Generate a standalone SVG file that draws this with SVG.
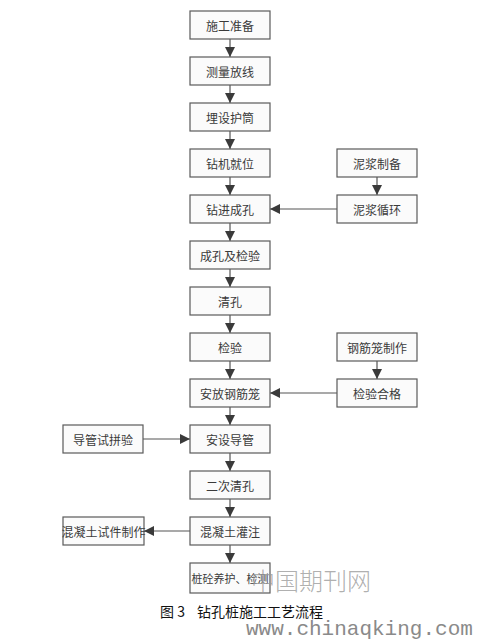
<svg xmlns="http://www.w3.org/2000/svg" width="477" height="641" viewBox="0 0 477 641">
<defs>
<marker id="ah" viewBox="0 0 10 10" refX="10" refY="5" markerWidth="10" markerHeight="10" markerUnits="userSpaceOnUse" orient="auto">
<path d="M0,0 L10,5 L0,10 z" fill="#3a3a3a"/>
</marker>
<style>
.box{fill:#fbfbfb;stroke:#5a5a5a;stroke-width:1.2}
.t{font-family:"Noto Sans CJK SC",sans-serif;font-size:12px;fill:#3a3a3a;text-anchor:middle;dominant-baseline:central}
.c{stroke:#555;stroke-width:1.2;fill:none;marker-end:url(#ah)}
</style>
</defs>
<rect width="477" height="641" fill="#ffffff"/>
<g id="connectors">
<line class="c" x1="230" y1="39" x2="230" y2="57"/>
<line class="c" x1="230" y1="85" x2="230" y2="103"/>
<line class="c" x1="230" y1="131" x2="230" y2="149"/>
<line class="c" x1="230" y1="177" x2="230" y2="195"/>
<line class="c" x1="230" y1="223" x2="230" y2="241"/>
<line class="c" x1="230" y1="269" x2="230" y2="287"/>
<line class="c" x1="230" y1="315" x2="230" y2="333"/>
<line class="c" x1="230" y1="361" x2="230" y2="379"/>
<line class="c" x1="230" y1="407" x2="230" y2="425"/>
<line class="c" x1="230" y1="453" x2="230" y2="471"/>
<line class="c" x1="230" y1="499" x2="230" y2="517"/>
<line class="c" x1="230" y1="545" x2="230" y2="563"/>
<line class="c" x1="377" y1="177" x2="377" y2="195"/>
<line class="c" x1="377" y1="361" x2="377" y2="379"/>
<line class="c" x1="337" y1="209" x2="270" y2="209"/>
<line class="c" x1="337" y1="393" x2="270" y2="393"/>
<line class="c" x1="143" y1="439" x2="190" y2="439"/>
<line class="c" x1="190" y1="531" x2="144" y2="531"/>
</g>
<g id="n1"><rect class="box" x="190" y="11" width="80" height="28"/><text class="t" x="230" y="25">施工准备</text></g>
<g id="n2"><rect class="box" x="190" y="57" width="80" height="28"/><text class="t" x="230" y="71">测量放线</text></g>
<g id="n3"><rect class="box" x="190" y="103" width="80" height="28"/><text class="t" x="230" y="117">埋设护筒</text></g>
<g id="n4"><rect class="box" x="190" y="149" width="80" height="28"/><text class="t" x="230" y="163">钻机就位</text></g>
<g id="n5"><rect class="box" x="190" y="195" width="80" height="28"/><text class="t" x="230" y="209">钻进成孔</text></g>
<g id="n6"><rect class="box" x="190" y="241" width="80" height="28"/><text class="t" x="230" y="255">成孔及检验</text></g>
<g id="n7"><rect class="box" x="190" y="287" width="80" height="28"/><text class="t" x="230" y="301">清孔</text></g>
<g id="n8"><rect class="box" x="190" y="333" width="80" height="28"/><text class="t" x="230" y="347">检验</text></g>
<g id="n9"><rect class="box" x="190" y="379" width="80" height="28"/><text class="t" x="230" y="393">安放钢筋笼</text></g>
<g id="n10"><rect class="box" x="190" y="425" width="80" height="28"/><text class="t" x="230" y="439">安设导管</text></g>
<g id="n11"><rect class="box" x="190" y="471" width="80" height="28"/><text class="t" x="230" y="485">二次清孔</text></g>
<g id="n12"><rect class="box" x="190" y="517" width="80" height="28"/><text class="t" x="230" y="531">混凝土灌注</text></g>
<g id="n13"><rect class="box" x="190" y="563" width="80" height="30"/><text class="t" x="230" y="578" style="font-size:11px">桩砼养护、检测</text></g>
<g id="r1"><rect class="box" x="337" y="149" width="80" height="28"/><text class="t" x="377" y="163">泥浆制备</text></g>
<g id="r2"><rect class="box" x="337" y="195" width="80" height="28"/><text class="t" x="377" y="209">泥浆循环</text></g>
<g id="r3"><rect class="box" x="337" y="333" width="80" height="28"/><text class="t" x="377" y="347">钢筋笼制作</text></g>
<g id="r4"><rect class="box" x="337" y="379" width="80" height="28"/><text class="t" x="377" y="393">检验合格</text></g>
<g id="l1"><rect class="box" x="63" y="425" width="80" height="28"/><text class="t" x="103" y="439">导管试拼验</text></g>
<g id="l2"><rect class="box" x="63" y="517" width="81" height="28"/><text class="t" x="103.5" y="531">混凝土试件制作</text></g>
<text x="160" y="617" font-family="'Noto Sans CJK SC',sans-serif" font-size="14" fill="#111">图 3<tspan x="197">钻孔桩施工工艺流程</tspan></text>
<text x="251" y="590" font-family="'Noto Sans CJK SC',sans-serif" font-size="24" font-weight="300" fill="#9a9a9a" fill-opacity="0.8">中国期刊网</text>
<text x="246" y="635" font-family="'Liberation Mono',monospace" font-size="21" fill="#8a8a8a">www.chinaqking.com</text>
</svg>
